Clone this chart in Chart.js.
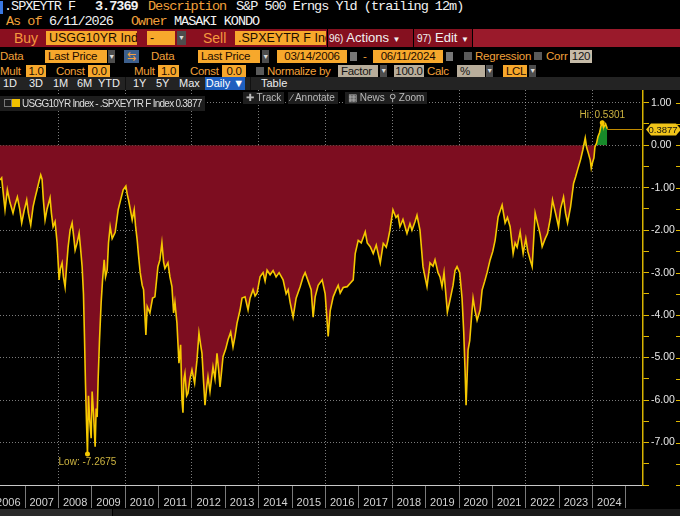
<!DOCTYPE html>
<html lang="en">
<head>
<meta charset="UTF-8" />
<title>USGG10YR Index - .SPXEYTR F Index</title>
<script src="https://cdn.jsdelivr.net/npm/chart.js"></script>
<style>
  html, body { margin: 0; padding: 0; background: #000; }
  body { width: 680px; height: 516px; position: relative; overflow: hidden; font-family: "Liberation Sans", Arial, sans-serif; }
  .a { position: absolute; white-space: nowrap; }
  .mono { font-family: "Liberation Mono", monospace; font-size: 13.5px; letter-spacing: -1px; line-height: 15px; }
  .or { color: #f2a03a; }
  .wh { color: #f2f2f2; }
  .box { position: absolute; background: #f7a82c; color: #1c0c00; box-sizing: border-box; padding-left: 3px; overflow: hidden; white-space: nowrap; }
  .gb { background: #b8ad9b; color: #151515; }
  .c { text-align: center; padding-left: 0; }
  .r3 { top: 31px; height: 14px; line-height: 14px; font-size: 12.5px; }
  .r4 { top: 50px; height: 13px; line-height: 13px; font-size: 11.5px; letter-spacing: -0.2px; }
  .r5 { top: 65px; height: 12px; line-height: 12px; font-size: 11.5px; letter-spacing: -0.3px; }
  .dd { position: absolute; background: #4d4d4d; color: #ddd; font-size: 7px; text-align: center; }
  .ck { position: absolute; width: 8px; height: 8px; background: #5a5a5a; }
  .r6 { top: 77px; height: 13px; line-height: 13px; font-size: 11px; color: #eee; }
  .tool { position: absolute; top: 92px; height: 12px; line-height: 12px; background: #1e1e1e; color: #bbb; font-size: 10px; padding: 0 3px; }
  #wrap { position: absolute; left: 0; top: 90px; width: 680px; height: 419px; }
</style>
</head>
<body>
  <!-- title rows -->
  <div class="a" style="left:0;top:1px;width:3px;height:13px;background:#3a78e0"></div>
  <div class="a mono wh" style="left:4px;top:-1px">.SPXEYTR F</div>
  <div class="a mono wh" style="left:95px;top:-1px;font-weight:bold">3.7369</div>
  <div class="a mono or" style="left:148px;top:-1px">Description</div>
  <div class="a mono wh" style="left:236px;top:-1px">S&amp;P 500 Erngs Yld (trailing 12m)</div>
  <div class="a mono or" style="left:6px;top:14px">As of</div>
  <div class="a mono wh" style="left:49px;top:14px">6/11/2026</div>
  <div class="a mono or" style="left:131px;top:14px">Owner</div>
  <div class="a mono wh" style="left:174px;top:14px">MASAKI KONDO</div>

  <!-- buy / sell bar -->
  <div class="a" style="left:0;top:29px;width:327px;height:18px;background:#8a0f1f"></div>
  <div class="a" style="left:328px;top:29px;width:85px;height:18px;background:#85101f"></div>
  <div class="a" style="left:414px;top:29px;width:58px;height:18px;background:#85101f"></div>
  <div class="a" style="left:473px;top:29px;width:207px;height:18px;background:#9a1a2b"></div>
  <div class="a r3 or" style="left:14px;font-size:14px;color:#f5983e">Buy</div>
  <div class="box r3" style="left:46px;width:91px">USGG10YR Ind</div>
  <div class="box r3" style="left:147px;width:28px">-</div>
  <div class="dd r3" style="left:177px;width:9px">&#9660;</div>
  <div class="a r3 or" style="left:203px;font-size:14px;color:#f5983e">Sell</div>
  <div class="box r3" style="left:235px;width:91px">.SPXEYTR F Ind</div>
  <div class="a r3 wh" style="left:329px;font-size:13px"><span style="font-size:10px">96)</span> Actions <span style="font-size:8px">&#9660;</span></div>
  <div class="a r3 wh" style="left:417px;font-size:13px"><span style="font-size:10px">97)</span> Edit <span style="font-size:8px">&#9660;</span></div>

  <!-- data row -->
  <div class="a r4 or" style="left:0">Data</div>
  <div class="box r4" style="left:45px;width:62px">Last Price</div>
  <div class="dd r4" style="left:108px;width:7px">&#9660;</div>
  <div class="a r4" style="left:124px;width:15px;background:#3d5f8c;color:#f5a040;text-align:center;font-size:11px">&#8646;</div>
  <div class="a r4 or" style="left:151px">Data</div>
  <div class="box r4" style="left:198px;width:62px">Last Price</div>
  <div class="dd r4" style="left:262px;width:7px">&#9660;</div>
  <div class="box r4 c" style="left:277px;width:70px">03/14/2006</div>
  <div class="a" style="left:350px;top:52px;width:7px;height:9px;background:#777"></div>
  <div class="a r4 or" style="left:363px">-</div>
  <div class="box r4 c" style="left:373px;width:70px">06/11/2024</div>
  <div class="a" style="left:446px;top:52px;width:7px;height:9px;background:#777"></div>
  <div class="ck" style="left:464px;top:52px"></div>
  <div class="a r4 or" style="left:475px">Regression</div>
  <div class="ck" style="left:534px;top:52px"></div>
  <div class="a r4 or" style="left:546px">Corr</div>
  <div class="box r4 gb c" style="left:570px;width:22px;background:#c6bba8">120</div>

  <!-- mult row -->
  <div class="a r5 or" style="left:0">Mult</div>
  <div class="box r5 c" style="left:26px;width:20px">1.0</div>
  <div class="a r5 or" style="left:56px">Const</div>
  <div class="box r5 c" style="left:88px;width:22px">0.0</div>
  <div class="a r5 or" style="left:134px">Mult</div>
  <div class="box r5 c" style="left:158px;width:21px">1.0</div>
  <div class="a r5 or" style="left:190px">Const</div>
  <div class="box r5 c" style="left:222px;width:24px">0.0</div>
  <div class="ck" style="left:256px;top:67px"></div>
  <div class="a r5 or" style="left:267px">Normalize by</div>
  <div class="box r5 gb" style="left:338px;width:40px">Factor</div>
  <div class="dd r5" style="left:380px;width:7px">&#9660;</div>
  <div class="box r5 gb c" style="left:394px;width:30px">100.0</div>
  <div class="a r5 or" style="left:427px">Calc</div>
  <div class="box r5 gb" style="left:457px;width:28px">%</div>
  <div class="dd r5" style="left:486px;width:7px">&#9660;</div>
  <div class="box r5" style="left:503px;width:24px">LCL</div>
  <div class="dd r5" style="left:529px;width:7px">&#9660;</div>

  <!-- period bar -->
  <div class="a" style="left:0;top:77px;width:680px;height:13px;background:#232323"></div>
  <div class="a r6" style="left:3px">1D</div>
  <div class="a r6" style="left:29px">3D</div>
  <div class="a r6" style="left:53px">1M</div>
  <div class="a r6" style="left:77px">6M</div>
  <div class="a r6" style="left:98px">YTD</div>
  <div class="a" style="left:125px;top:77px;width:1px;height:13px;background:#111"></div>
  <div class="a r6" style="left:133px">1Y</div>
  <div class="a r6" style="left:156px">5Y</div>
  <div class="a r6" style="left:179px">Max</div>
  <div class="a r6" style="left:205px;width:40px;background:#1f5fbf;color:#fff;text-align:center">Daily &#9660;</div>
  <div class="a" style="left:250px;top:77px;width:1px;height:13px;background:#111"></div>
  <div class="a r6" style="left:261px">Table</div>

  <div id="wrap"><canvas id="c" width="680" height="419" style="width:680px;height:419px"></canvas></div>

  <!-- legend and chart tools -->
  <div class="a" style="left:0;top:96px;width:205px;height:15px;background:#1d1d1d"></div>
  <div class="a" style="left:4px;top:99px;width:6px;height:6px;border:1px solid #777"></div>
  <div class="a" style="left:12px;top:99px;width:8px;height:8px;background:#f0c000"></div>
  <div class="a" style="left:22px;top:96px;height:15px;line-height:15px;font-size:10px;letter-spacing:-0.75px;color:#ddd">USGG10YR Index - .SPXEYTR F Index 0.3877</div>
  <div class="tool" style="left:243px">&#10010; Track</div>
  <div class="tool" style="left:288px">&#8725; Annotate</div>
  <div class="tool" style="left:345px">&#9638; News</div>
  <div class="tool" style="left:386px">&#9906; Zoom</div>

  <div class="a" style="left:0;top:509px;width:112px;height:7px;background:#2a2a2a"></div>
  <div class="a" style="left:113px;top:509px;width:567px;height:7px;background:#1a1a1a"></div>

<script>
  // USGG10YR minus SPXEYTR (decimal years)
  const years = [
    2006.25, 2006.30, 2006.37, 2006.40, 2006.47, 2006.55, 2006.64, 2006.70, 2006.77, 2006.84,
    2006.90, 2006.97, 2007.05, 2007.10, 2007.17, 2007.24, 2007.30, 2007.36, 2007.42, 2007.47,
    2007.51, 2007.55, 2007.60, 2007.66, 2007.75, 2007.79, 2007.84, 2007.90, 2007.96, 2008.02,
    2008.06, 2008.11, 2008.15, 2008.20, 2008.24, 2008.29, 2008.35, 2008.41, 2008.45, 2008.50,
    2008.56, 2008.62, 2008.66, 2008.71, 2008.75, 2008.78, 2008.81, 2008.84, 2008.87, 2008.90,
    2008.93, 2008.98, 2009.01, 2009.05, 2009.10, 2009.13, 2009.16, 2009.19, 2009.23, 2009.28,
    2009.32, 2009.37, 2009.41, 2009.46, 2009.50, 2009.55, 2009.61, 2009.70, 2009.79, 2009.86,
    2009.94, 2010.02, 2010.06, 2010.10, 2010.15, 2010.21, 2010.27, 2010.31, 2010.36, 2010.40,
    2010.45, 2010.51, 2010.55, 2010.62, 2010.66, 2010.74, 2010.82, 2010.89, 2010.98, 2011.04,
    2011.10, 2011.15, 2011.19, 2011.28, 2011.34, 2011.40, 2011.45, 2011.49, 2011.55, 2011.61,
    2011.66, 2011.70, 2011.73, 2011.76, 2011.79, 2011.84, 2011.88, 2011.94, 2012.00, 2012.08,
    2012.15, 2012.21, 2012.26, 2012.30, 2012.35, 2012.39, 2012.44, 2012.48, 2012.54, 2012.63,
    2012.69, 2012.75, 2012.80, 2012.84, 2012.89, 2012.93, 2013.01, 2013.08, 2013.16, 2013.23,
    2013.29, 2013.35, 2013.44, 2013.50, 2013.59, 2013.68, 2013.74, 2013.83, 2013.89, 2013.95,
    2014.04, 2014.13, 2014.19, 2014.25, 2014.34, 2014.43, 2014.52, 2014.61, 2014.73, 2014.82,
    2014.88, 2014.94, 2015.03, 2015.12, 2015.24, 2015.33, 2015.39, 2015.48, 2015.57, 2015.63,
    2015.69, 2015.78, 2015.90, 2015.99, 2016.08, 2016.14, 2016.23, 2016.32, 2016.38, 2016.44,
    2016.53, 2016.65, 2016.74, 2016.83, 2016.89, 2016.98, 2017.07, 2017.19, 2017.25, 2017.34,
    2017.43, 2017.52, 2017.64, 2017.73, 2017.82, 2017.87, 2017.93, 2018.02, 2018.11, 2018.17,
    2018.23, 2018.32, 2018.44, 2018.53, 2018.59, 2018.68, 2018.74, 2018.83, 2018.92, 2018.98,
    2019.04, 2019.13, 2019.22, 2019.28, 2019.37, 2019.43, 2019.49, 2019.55, 2019.65, 2019.73,
    2019.82, 2019.88, 2019.94, 2020.02, 2020.09, 2020.14, 2020.18, 2020.21, 2020.24, 2020.27,
    2020.32, 2020.39, 2020.42, 2020.48, 2020.54, 2020.63, 2020.69, 2020.77, 2020.84, 2020.93,
    2021.01, 2021.08, 2021.17, 2021.23, 2021.29, 2021.38, 2021.45, 2021.53, 2021.62, 2021.68,
    2021.74, 2021.83, 2021.92, 2022.00, 2022.06, 2022.13, 2022.19, 2022.28, 2022.37, 2022.43,
    2022.49, 2022.58, 2022.65, 2022.74, 2022.80, 2022.89, 2022.98, 2023.04, 2023.13, 2023.19,
    2023.25, 2023.34, 2023.43, 2023.49, 2023.55, 2023.64, 2023.71, 2023.78, 2023.82, 2023.87,
    2023.93, 2023.96, 2024.00, 2024.04, 2024.07, 2024.12, 2024.16, 2024.21, 2024.25, 2024.29,
    2024.31, 2024.34, 2024.39, 2024.44
  ];
  const spread = [
    -0.82, -0.77, -1.30, -1.52, -1.05, -1.35, -1.60, -1.40, -1.22, -1.50,
    -1.83, -1.55, -1.29, -1.60, -1.88, -1.45, -1.24, -1.05, -0.85, -0.70,
    -0.80, -1.30, -1.76, -1.50, -1.24, -1.60, -1.92, -1.80, -2.30, -3.17,
    -2.90, -2.77, -3.10, -3.34, -2.90, -2.40, -2.00, -1.83, -2.10, -2.47,
    -2.30, -2.07, -2.40, -2.86, -3.50, -4.50, -5.60, -6.50, -7.2675, -5.90,
    -6.40, -6.90, -5.80, -6.30, -7.10, -6.20, -6.40, -5.50, -4.60, -3.70,
    -3.20, -2.70, -3.10, -2.94, -2.30, -1.92, -2.20, -2.05, -1.52, -1.30,
    -1.05, -0.96, -1.15, -1.29, -1.50, -1.76, -1.52, -1.90, -2.24, -2.60,
    -3.00, -3.30, -3.40, -4.47, -3.80, -3.95, -3.60, -3.57, -2.86, -2.70,
    -2.30, -2.75, -2.90, -2.77, -3.10, -3.33, -3.95, -3.70, -4.19, -5.13,
    -4.70, -6.00, -6.30, -5.50, -5.37, -5.90, -5.84, -5.50, -5.29, -5.60,
    -5.06, -4.42, -4.70, -4.90, -5.60, -6.12, -5.70, -5.45, -5.80, -5.22,
    -5.50, -4.90, -5.30, -5.69, -5.30, -4.98, -4.80, -4.58, -4.40, -4.75,
    -4.50, -4.19, -3.88, -3.60, -3.57, -3.88, -3.60, -3.40, -3.55, -3.48,
    -3.10, -3.00, -3.20, -2.94, -3.05, -2.95, -3.10, -3.00, -3.17, -3.50,
    -3.40, -3.70, -4.05, -3.60, -3.33, -3.10, -3.00, -3.20, -3.40, -4.05,
    -3.57, -3.30, -3.17, -3.50, -4.50, -3.90, -3.57, -3.40, -3.30, -3.48,
    -3.35, -3.33, -3.25, -3.17, -2.55, -2.24, -2.30, -2.04, -2.30, -2.39,
    -2.55, -2.35, -2.77, -2.31, -2.40, -2.24, -2.00, -1.52, -1.70, -1.65,
    -1.92, -1.75, -2.08, -1.85, -2.00, -1.80, -1.65, -2.00, -2.86, -3.10,
    -3.33, -2.77, -2.85, -2.70, -3.00, -3.10, -3.33, -3.00, -3.93, -3.64,
    -3.30, -2.95, -2.86, -3.00, -3.60, -4.40, -5.30, -6.12, -5.50, -4.82,
    -4.60, -3.88, -3.60, -3.90, -4.12, -3.88, -3.41, -3.20, -3.00, -2.70,
    -2.50, -2.24, -1.69, -1.55, -1.41, -1.83, -1.70, -1.92, -2.55, -2.30,
    -2.40, -2.04, -2.55, -2.20, -2.50, -2.70, -2.86, -1.60, -1.90, -2.10,
    -2.39, -2.20, -2.08, -1.70, -1.29, -1.60, -1.92, -1.50, -1.22, -1.60,
    -1.83, -1.45, -0.90, -0.75, -0.58, -0.34, -0.10, 0.17, -0.05, -0.18,
    -0.35, -0.54, -0.40, -0.30, -0.04, 0.05, 0.20, 0.30, 0.45, 0.5301,
    0.47, 0.43, 0.50, 0.3877
  ];
  // axis ticks: year boundaries (label shown is the year to the left) and y values
  const yearTicks = [2007, 2008, 2009, 2010, 2011, 2012, 2013, 2014, 2015, 2016,
                     2017, 2018, 2019, 2020, 2021, 2022, 2023, 2024, 2025];
  const valueTicks = [-8, -7.5, -7, -6.5, -6, -5.5, -5, -4.5, -4, -3.5, -3,
                      -2.5, -2, -1.5, -1, -0.5, 0, 0.5, 1];

  const lowIdx = spread.indexOf(Math.min(...spread));
  const hiIdx = spread.indexOf(Math.max(...spread));
  const lastIdx = spread.length - 1;

  const gridCol = 'rgba(190,190,190,0.65)';
  const yellow = '#f5c800';
  const markCol = '#cdb440';

  Chart.defaults.font.family = '"Liberation Sans", Arial, sans-serif';

  const overlay = {
    id: 'overlay',
    afterDraw(chart) {
      const { ctx, chartArea, scales: { y } } = chart;
      const pts = chart.getDatasetMeta(0).data;
      ctx.save();

      // last value line + badge
      const last = pts[lastIdx];
      const ly = Math.round(last.y) + 0.5;
      ctx.strokeStyle = '#c08a00';
      ctx.lineWidth = 1;
      ctx.beginPath();
      ctx.moveTo(last.x, ly);
      ctx.lineTo(chartArea.right, ly);
      ctx.stroke();
      const bx = chartArea.right + 3;
      ctx.fillStyle = '#f0c419';
      ctx.beginPath();
      ctx.moveTo(bx, ly);
      ctx.lineTo(bx + 5, ly - 6);
      ctx.lineTo(676, ly - 6);
      ctx.lineTo(681, ly);
      ctx.lineTo(676, ly + 6);
      ctx.lineTo(bx + 5, ly + 6);
      ctx.closePath();
      ctx.fill();
      ctx.fillStyle = '#111';
      ctx.font = '9.5px "Liberation Sans"';
      ctx.textAlign = 'center';
      ctx.textBaseline = 'middle';
      ctx.fillText(spread[lastIdx].toFixed(4), 663, ly + 0.5);

      // hi / low labels
      ctx.fillStyle = markCol;
      ctx.font = '10px "Liberation Sans"';
      const hp = pts[hiIdx], lp = pts[lowIdx];
      ctx.fillText('Hi: ' + spread[hiIdx].toFixed(4), hp.x, hp.y - 7);
      ctx.fillText('Low: ' + spread[lowIdx].toFixed(4), lp.x, lp.y + 8);

      // small ticks on the right edge
      ctx.fillStyle = '#e0b800';
      y.ticks.forEach(t => {
        const py = Math.round(y.getPixelForValue(t.value));
        ctx.fillRect(676, py, 4, 1);
      });
      ctx.restore();
    }
  };

  new Chart(document.getElementById('c'), {
    type: 'line',
    data: {
      datasets: [{
        data: years.map((yr, i) => ({ x: yr, y: spread[i] })),
        borderColor: yellow,
        borderWidth: 1.6,
        tension: 0,
        fill: { target: { value: 0 }, above: '#178a2a', below: '#7d0d20' },
        pointRadius: c => (c.dataIndex === lowIdx || c.dataIndex === hiIdx) ? 2.5 : 0,
        pointBackgroundColor: yellow,
        pointBorderWidth: 0
      }]
    },
    options: {
      responsive: false,
      animation: false,
      layout: { padding: 0 },
      plugins: { legend: { display: false }, tooltip: { enabled: false } },
      scales: {
        x: {
          type: 'linear',
          min: 2006.25,
          max: 2025.51,
          z: 1,
          afterBuildTicks: s => { s.ticks = yearTicks.map(v => ({ value: v })); },
          afterFit: s => { s.height = 24; s.paddingLeft = 0; s.paddingRight = 0; },
          grid: {
            color: c => (c.tick && c.tick.value % 2 === 0) ? gridCol : 'rgba(0,0,0,0)',
            tickColor: '#7a7a7a',
            tickLength: 23,
            lineWidth: 1
          },
          border: { color: '#c8c8c8', width: 1, dash: [1, 2] },
          ticks: {
            autoSkip: false,
            maxRotation: 0,
            labelOffset: -16.69,
            padding: -12,
            color: '#d4d4d4',
            font: { size: 11 },
            callback: v => String(v - 1)
          }
        },
        y: {
          position: 'right',
          min: -8,
          max: 1.3,
          z: 1,
          afterBuildTicks: s => { s.ticks = valueTicks.map(v => ({ value: v })); },
          afterFit: s => { s.width = 37; s.paddingTop = 0; s.paddingBottom = 0; },
          grid: {
            color: c => (c.tick && Number.isInteger(c.tick.value) && c.tick.value > -8) ? gridCol : 'rgba(0,0,0,0)',
            tickColor: '#e0b800',
            tickLength: 6
          },
          border: { color: '#d8b400', width: 1.5, dash: [1, 2] },
          ticks: {
            autoSkip: false,
            padding: 2,
            color: '#e6e6e6',
            font: { size: 10.5 },
            callback: v => (Number.isInteger(v) && v > -8) ? v.toFixed(2) : ''
          }
        }
      }
    },
    plugins: [overlay]
  });
</script>
</body>
</html>
